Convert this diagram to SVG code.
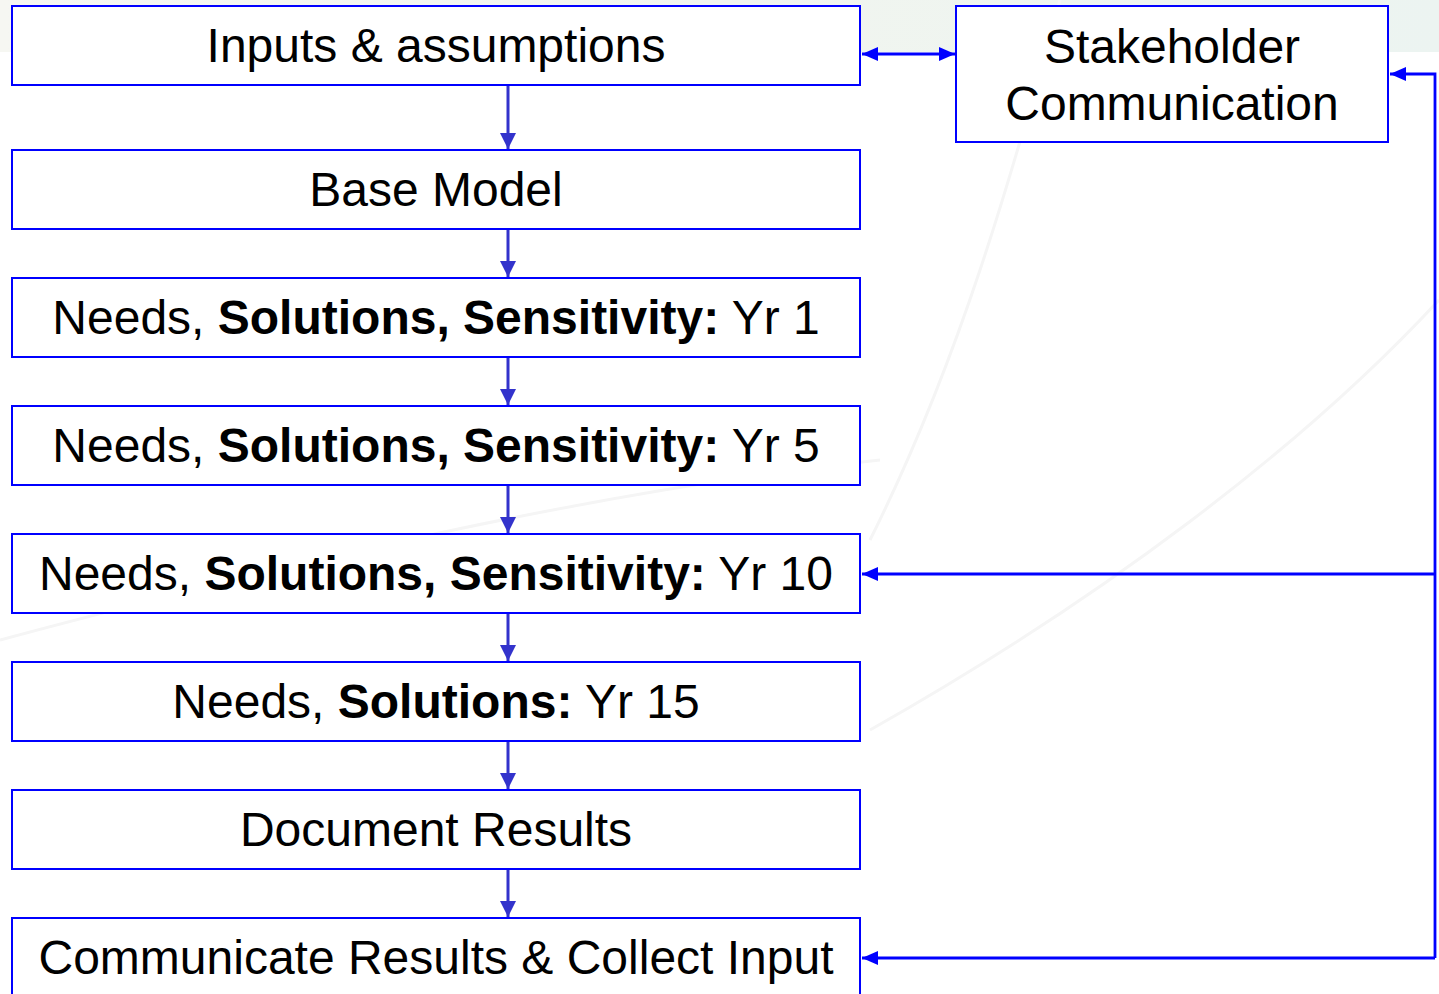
<svg xmlns="http://www.w3.org/2000/svg" width="1439" height="994" viewBox="0 0 1439 994">
<style>
.box{fill:#ffffff;stroke:#0000ff;stroke-width:2}
.t{font-family:"Liberation Sans",Arial,sans-serif;font-size:48px;fill:#000;text-anchor:middle}
.b{font-weight:bold}
.down{stroke:#3333cc;stroke-width:3;fill:none}
.conn{stroke:#0000ff;stroke-width:2.8;fill:none}
.arc{stroke:#f5f5f5;stroke-width:3;fill:none}
</style>
<defs>
<linearGradient id="bg" x1="0" y1="0" x2="1" y2="0">
<stop offset="0" stop-color="#f6f7f2"/>
<stop offset="0.5" stop-color="#f1f5ef"/>
<stop offset="1" stop-color="#ecf4f1"/>
</linearGradient>
<marker id="ad" markerUnits="userSpaceOnUse" markerWidth="16" markerHeight="16" refX="16" refY="8" orient="auto">
<path d="M0,0 L16,8 L0,16 Z" fill="#3333cc"/>
</marker>
<marker id="ab" markerUnits="userSpaceOnUse" markerWidth="16" markerHeight="14" refX="16" refY="7" orient="auto-start-reverse">
<path d="M0,0 L16,7 L0,14 Z" fill="#0000ff"/>
</marker>
</defs>
<rect x="0" y="0" width="1439" height="994" fill="#ffffff"/>
<rect x="0" y="0" width="1439" height="52" fill="url(#bg)"/>
<g id="background-arcs">
<path class="arc" d="M0,640 C300,560 600,490 880,460"/>
<path class="arc" d="M1060,0 C1010,180 960,360 870,540"/>
<path class="arc" d="M1439,300 C1300,450 1100,600 870,730"/>
</g>
<g id="connectors">
<line class="down" x1="508" y1="86" x2="508" y2="149" marker-end="url(#ad)"/>
<line class="down" x1="508" y1="230" x2="508" y2="277" marker-end="url(#ad)"/>
<line class="down" x1="508" y1="358" x2="508" y2="405" marker-end="url(#ad)"/>
<line class="down" x1="508" y1="486" x2="508" y2="533" marker-end="url(#ad)"/>
<line class="down" x1="508" y1="614" x2="508" y2="661" marker-end="url(#ad)"/>
<line class="down" x1="508" y1="742" x2="508" y2="789" marker-end="url(#ad)"/>
<line class="down" x1="508" y1="870" x2="508" y2="917" marker-end="url(#ad)"/>
<line class="conn" x1="862" y1="54" x2="955" y2="54" marker-start="url(#ab)" marker-end="url(#ab)"/>
<polyline class="conn" points="1435,958 1435,74 1390,74" marker-end="url(#ab)"/>
<line class="conn" x1="1435" y1="574" x2="862" y2="574" marker-end="url(#ab)"/>
<line class="conn" x1="1435" y1="958" x2="862" y2="958" marker-end="url(#ab)"/>
</g>
<g id="inputs">
<rect class="box" x="12" y="6" width="848" height="79"/>
<text class="t" x="436" y="62">Inputs &amp; assumptions</text>
</g>
<g id="stakeholder">
<rect class="box" x="956" y="6" width="432" height="136"/>
<text class="t" x="1172" y="63">Stakeholder</text>
<text class="t" x="1172" y="120">Communication</text>
</g>
<g id="base-model">
<rect class="box" x="12" y="150" width="848" height="79"/>
<text class="t" x="436" y="206">Base Model</text>
</g>
<g id="yr1">
<rect class="box" x="12" y="278" width="848" height="79"/>
<text class="t" x="436" y="334">Needs, <tspan class="b">Solutions, Sensitivity:</tspan> Yr 1</text>
</g>
<g id="yr5">
<rect class="box" x="12" y="406" width="848" height="79"/>
<text class="t" x="436" y="462">Needs, <tspan class="b">Solutions, Sensitivity:</tspan> Yr 5</text>
</g>
<g id="yr10">
<rect class="box" x="12" y="534" width="848" height="79"/>
<text class="t" x="436" y="590">Needs, <tspan class="b">Solutions, Sensitivity:</tspan> Yr 10</text>
</g>
<g id="yr15">
<rect class="box" x="12" y="662" width="848" height="79"/>
<text class="t" x="436" y="718">Needs, <tspan class="b">Solutions:</tspan> Yr 15</text>
</g>
<g id="document">
<rect class="box" x="12" y="790" width="848" height="79"/>
<text class="t" x="436" y="846">Document Results</text>
</g>
<g id="communicate">
<rect class="box" x="12" y="918" width="848" height="90"/>
<text class="t" x="436" y="974">Communicate Results &amp; Collect Input</text>
</g>
</svg>
